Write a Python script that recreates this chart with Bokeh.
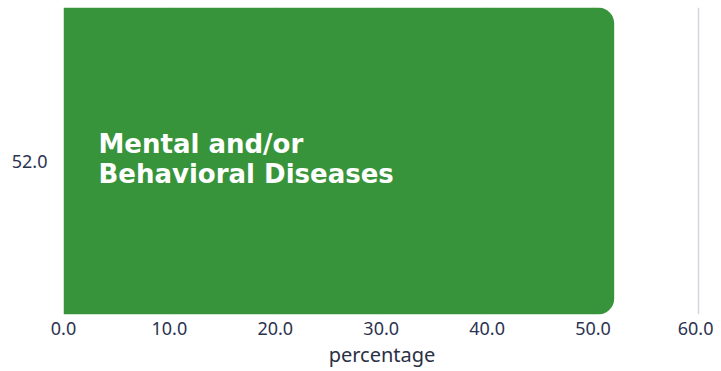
from bokeh.plotting import figure
from bokeh.models import FactorRange, Range1d, ColumnDataSource, FixedTicker, NumeralTickFormatter
from bokeh.core.properties import value
from bokeh.embed import file_html
from bokeh.resources import INLINE

categories = ["52.0"]
percentages = [52.0]
labels = ["Mental and/or\nBehavioral Diseases"]
x_ticks = [0, 10, 20, 30, 40, 50, 60]

src = ColumnDataSource(dict(cat=categories, val=percentages, lab=labels, zero=[0] * len(categories)))

p = figure(width=713, height=370, y_range=FactorRange(*categories, range_padding=0),
           x_range=Range1d(0, 60.15), output_backend="svg", toolbar_location=None,
           min_border_top=7, min_border_right=13, min_border_left=63, min_border_bottom=0)
p.outline_line_color = None
p.background_fill_color = "white"

p.hbar(y="cat", left="zero", right="val", height=1.0, source=src,
       fill_color="#38943b", line_color=None, border_radius=(0, 16, 16, 0))

p.text(x="zero", y="cat", text="lab", source=src, x_offset=35, y_offset=-2,
       text_color="white", text_font=value("DejaVu Sans"), text_font_style="bold",
       text_font_size="26px", text_baseline="middle", text_align="left",
       text_line_height=1.0)

p.xaxis.ticker = FixedTicker(ticks=x_ticks)
p.xaxis.formatter = NumeralTickFormatter(format="0.0")
p.xaxis.axis_label = "percentage"
p.xaxis.axis_label_text_font = "Noto Sans"
p.xaxis.axis_label_text_font_style = "normal"
p.xaxis.axis_label_text_font_size = "20px"
p.xaxis.axis_label_text_color = "#2b3045"
p.xaxis.axis_label_standoff = 3
for ax in (p.xaxis, p.yaxis):
    ax.axis_line_color = None
    ax.major_tick_line_color = None
    ax.minor_tick_line_color = None
    ax.major_tick_out = 0
    ax.major_tick_in = 0
    ax.major_label_text_font = "Noto Sans"
    ax.major_label_text_font_size = "18px"
    ax.major_label_text_color = "#2b3350"
p.xaxis.major_label_standoff = 7
p.yaxis.major_label_standoff = 16

p.xgrid.grid_line_color = "#d4d4dc"
p.xgrid.grid_line_width = 1.5
p.ygrid.grid_line_color = None

open("out.html", "w").write(file_html(p, INLINE))
